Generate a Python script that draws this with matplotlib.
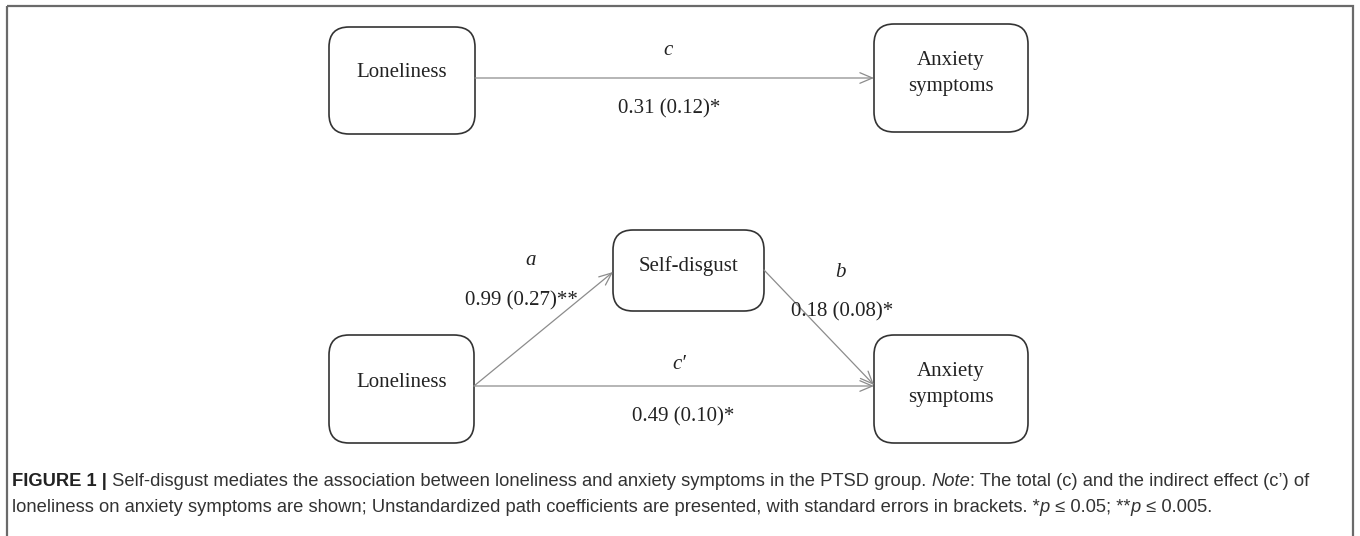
import matplotlib
matplotlib.use("Agg")
import matplotlib.pyplot as plt
from matplotlib.patches import FancyBboxPatch, FancyArrowPatch, Rectangle
from matplotlib.font_manager import FontProperties, fontManager

# ---------------- data ----------------
node_names = ["Loneliness", "Anxiety\nsymptoms", "Self-disgust"]
path_names = ["c", "a", "b", "c\u2032"]
path_coef = [0.31, 0.99, 0.18, 0.49]
path_se = [0.12, 0.27, 0.08, 0.10]
path_stars = ["*", "**", "*", "*"]

caption_line1 = [
    ("FIGURE 1 |", "bold"),
    (" Self-disgust mediates the association between loneliness and anxiety symptoms in the PTSD group. ", "normal"),
    ("Note", "italic"),
    (": The total (c) and the indirect effect (c\u2019) of", "normal"),
]
caption_line2 = [
    ("loneliness on anxiety symptoms are shown; Unstandardized path coefficients are presented, with standard errors in brackets. *", "normal"),
    ("p", "italic"),
    (" \u2264 0.05; **", "normal"),
    ("p", "italic"),
    (" \u2264 0.005.", "normal"),
]

# ---------------- layout (pixels) ----------------
W, H = 1360, 536
fig = plt.figure(figsize=(W / 100, H / 100), dpi=100)
ax = fig.add_axes([0, 0, 1, 1])
ax.set_xlim(0, W)
ax.set_ylim(H, 0)
ax.axis("off")

serif = "Liberation Serif"
fs_node = 15
txt_col = "#222222"
line_col = "#8c8c8c"
box_col = "#333333"
line_gap = 26

# outer frame
ax.add_patch(Rectangle((7, 6), W - 14, H + 20, fill=False, ec="#6a6a6a", lw=1.6, clip_on=True))

def box(x0, y0, x1, y1, label, base):
    p = FancyBboxPatch((x0, y0), x1 - x0, y1 - y0,
                       boxstyle="round,pad=0,rounding_size=20",
                       fc="white", ec=box_col, lw=1.2)
    ax.add_patch(p)
    for k, part in enumerate(label.split("\n")):
        ax.text((x0 + x1) / 2, base + k * line_gap, part, ha="center", va="baseline",
                family=serif, fontsize=fs_node, color=txt_col)

def arrow(p0, p1):
    a = FancyArrowPatch(p0, p1, arrowstyle="->,head_length=0.9,head_width=0.38",
                        mutation_scale=10, color=line_col, lw=0.9,
                        shrinkA=0, shrinkB=0)
    ax.add_patch(a)

def coef_text(i):
    return f"{path_coef[i]:.2f} ({path_se[i]:.2f}){path_stars[i]}"

def label(x, y, s, italic=False):
    ax.text(x, y, s, ha="center", va="baseline", family=serif,
            style="italic" if italic else "normal", fontsize=fs_node, color=txt_col)

# top model
box(329, 27, 475, 134, node_names[0], 77)
box(874, 24, 1028, 132, node_names[1], 65)
arrow((475, 78), (874, 78))
label(668, 55, path_names[0], True)
label(669, 113, coef_text(0))

# bottom model
box(329, 335, 474, 443, node_names[0], 387)
box(874, 335, 1028, 443, node_names[1], 376)
box(613, 230, 764, 311, node_names[2], 271)
arrow((474, 386), (613, 272))
arrow((764, 270), (874, 385))
arrow((474, 386), (874, 386))

label(531, 265, path_names[1], True)
label(521, 305, coef_text(1), )
label(840, 277, path_names[2], True)
label(842, 316, coef_text(2))
label(679, 369, path_names[3], True)
label(683, 421, coef_text(3))

# ---------------- caption ----------------
names = {f.name for f in fontManager.ttflist}
cap_family = "Liberation Sans Narrow" if "Liberation Sans Narrow" in names else "Liberation Sans"
renderer = fig.canvas.get_renderer()

def props(style, size):
    return FontProperties(family=cap_family, size=size,
                          weight="bold" if style == "bold" else "normal",
                          style="italic" if style == "italic" else "normal")

def run_width(s, style, size):
    fp = props(style, size)
    w1, _, _ = renderer.get_text_width_height_descent("|" + s + "|", fp, ismath=False)
    w2, _, _ = renderer.get_text_width_height_descent("||", fp, ismath=False)
    return w1 - w2

def line_width(runs, size):
    return sum(run_width(s, st, size) for s, st in runs)

target = 1304.0
cap_size = 11.5 * target / line_width(caption_line1, 11.5)

def draw_runs(x, y, runs, size):
    for s, st in runs:
        ax.text(x, y, s, ha="left", va="baseline", fontproperties=props(st, size),
                color="#222222" if st == "bold" else "#333333")
        x += run_width(s, st, size)

draw_runs(12, 486, caption_line1, cap_size)
draw_runs(12, 512, caption_line2, cap_size)

fig.savefig("out.png", dpi=100)
